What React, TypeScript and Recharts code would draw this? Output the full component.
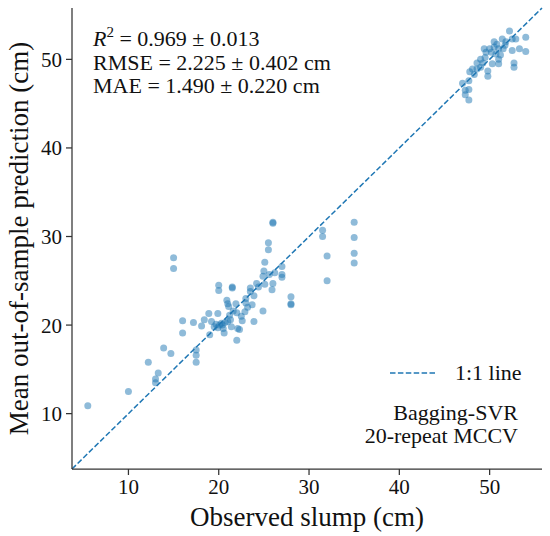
import { ScatterChart, Scatter, XAxis, YAxis, ReferenceLine, Label } from "recharts"

const observed = [
  5.5, 10.0, 12.2, 13.3, 13.0, 13.0, 13.9, 14.7, 15.0, 15.0,
  16.0, 16.0, 17.2, 17.5, 17.5, 17.5, 18.1, 18.4, 18.9, 19.0,
  19.2, 19.5, 19.7, 19.9, 19.9, 20.0, 20.0, 20.1, 20.3, 20.5,
  20.6, 20.9, 21.0, 21.1, 21.2, 21.3, 21.4, 21.5, 21.5, 21.6,
  21.9, 22.0, 22.0, 22.1, 22.3, 22.6, 22.9, 23.0, 23.0, 23.2,
  23.5, 23.5, 23.7, 23.9, 23.9, 24.2, 24.4, 24.9, 24.9, 25.0,
  25.1, 25.1, 25.5, 25.5, 26.0, 26.0, 25.6, 25.9, 26.0, 26.2,
  27.0, 27.0, 27.0, 28.0, 28.0, 28.0, 31.5, 31.5, 32.0, 32.0,
  35.0, 35.0, 35.0, 35.0, 20.4, 20.7, 21.0, 22.5,
  47.0, 47.3, 47.3, 47.7, 47.7, 47.7, 47.8, 48.1, 48.6, 48.6,
  49.0, 49.25, 49.4, 49.5, 49.6, 49.8, 49.8, 50.0, 50.3, 50.5,
  50.5, 50.7, 51.0, 51.0, 51.0, 51.4, 51.5, 51.8, 52.2, 52.5,
  52.5, 52.7, 52.7, 52.9, 53.3, 54.0, 54.0, 50.2, 51.2, 49.0,
  48.3, 51.7, 50.8,
]

const predicted = [
  10.9, 12.5, 15.8, 14.6, 13.9, 13.5, 17.4, 16.8, 27.6, 26.4,
  20.5, 19.1, 20.3, 17.2, 16.6, 15.8, 19.9, 20.6, 21.3, 18.9,
  20.4, 19.8, 20.1, 19.7, 21.3, 24.5, 23.9, 20.0, 20.2, 19.6,
  19.1, 22.8, 22.4, 22.1, 21.1, 20.6, 19.8, 24.3, 24.2, 21.6,
  22.4, 18.3, 21.4, 19.6, 19.5, 20.5, 21.5, 23.0, 22.5, 22.0,
  23.8, 24.2, 22.3, 20.4, 23.3, 24.7, 24.3, 21.6, 25.5, 26.1,
  27.1, 24.6, 28.5, 29.3, 31.6, 31.5, 25.7, 24.0, 24.7, 25.9,
  26.6, 25.7, 25.4, 23.2, 22.4, 22.3, 30.7, 30.0, 27.8, 25.0,
  31.6, 29.9, 28.1, 27.0, 20.0, 20.3, 20.4, 21.0,
  47.3, 46.5, 46.0, 45.4, 46.6, 47.6, 48.6, 48.9, 49.6, 48.9,
  49.1, 49.6, 51.2, 50.2, 50.8, 48.7, 48.1, 51.2, 49.5, 52.0,
  51.4, 50.6, 50.0, 49.5, 51.2, 52.3, 51.2, 52.0, 53.2, 52.3,
  51.0, 49.6, 49.1, 52.3, 51.2, 52.5, 50.9, 50.8, 50.5, 50.0,
  48.3, 51.6, 51.7,
]

const axisLimits = [3.75, 55.8]
const ticks = [10, 20, 30, 40, 50]

const stats = ["RMSE = 2.225 ± 0.402 cm", "MAE = 1.490 ± 0.220 cm"]
const modelText = ["Bagging-SVR", "20-repeat MCCV"]

const FONT = "'Liberation Serif', 'Times New Roman', serif"
const BLUE = "#1f77b4"

const points = observed.map((x, i) => ({ x, y: predicted[i] }))

const Dot = (props: any) => (
  <circle cx={props.cx} cy={props.cy} r={3.5} fill={BLUE} fillOpacity={0.5} />
)

export default function App() {
  return (
    <div style={{ position: "absolute", left: 0, top: 0, width: 550, height: 536, background: "#fff" }}>
      <ScatterChart width={550} height={536} margin={{ top: 8, right: 8, bottom: 0, left: 0 }}>
        <XAxis
          type="number"
          dataKey="x"
          domain={axisLimits}
          ticks={ticks}
          allowDataOverflow
          height={67}
          tickSize={6}
          tickMargin={4}
          stroke="#333"
          strokeWidth={1.25}
          tick={{ fontSize: 21, fontFamily: FONT, fill: "#111" }}
        >
          <Label
            value="Observed slump (cm)"
            position="insideBottom"
            offset={10}
            style={{ fontSize: 27, fontFamily: FONT, fill: "#111" }}
          />
        </XAxis>
        <YAxis
          type="number"
          dataKey="y"
          domain={axisLimits}
          ticks={ticks}
          allowDataOverflow
          width={72}
          tickSize={6}
          tickMargin={4}
          stroke="#333"
          strokeWidth={1.25}
          tick={{ fontSize: 21, fontFamily: FONT, fill: "#111" }}
        >
          <Label
            value="Mean out-of-sample prediction (cm)"
            angle={-90}
            position="insideLeft"
            offset={18}
            style={{ fontSize: 27, fontFamily: FONT, fill: "#111", textAnchor: "middle" }}
          />
        </YAxis>
        <ReferenceLine
          segment={[
            { x: axisLimits[0], y: axisLimits[0] },
            { x: axisLimits[1], y: axisLimits[1] },
          ]}
          stroke={BLUE}
          strokeWidth={1.5}
          strokeDasharray="5.5 2.4"
        />
        <Scatter data={points} shape={Dot} isAnimationActive={false} />
      </ScatterChart>

      {/* text overlay: metrics, legend, model name */}
      <svg
        width={550}
        height={536}
        style={{ position: "absolute", left: 0, top: 0, pointerEvents: "none" }}
        fontFamily={FONT}
        fontSize={22}
        fill="#111"
      >
        <text x={93} y={46}>
          <tspan fontStyle="italic">R</tspan>
          <tspan fontSize={15} dy={-9}>2</tspan>
          <tspan dy={9}> = 0.969 ± 0.013</tspan>
        </text>
        {stats.map((s, i) => (
          <text key={s} x={93} y={70 + i * 23}>{s}</text>
        ))}
        <line x1={390} y1={373} x2={435} y2={373} stroke={BLUE} strokeWidth={1.5} strokeDasharray="5.5 2.4" />
        <text x={455} y={380}>1:1 line</text>
        {modelText.map((s, i) => (
          <text key={s} x={518} y={420 + i * 23} textAnchor="end">{s}</text>
        ))}
      </svg>
    </div>
  )
}
